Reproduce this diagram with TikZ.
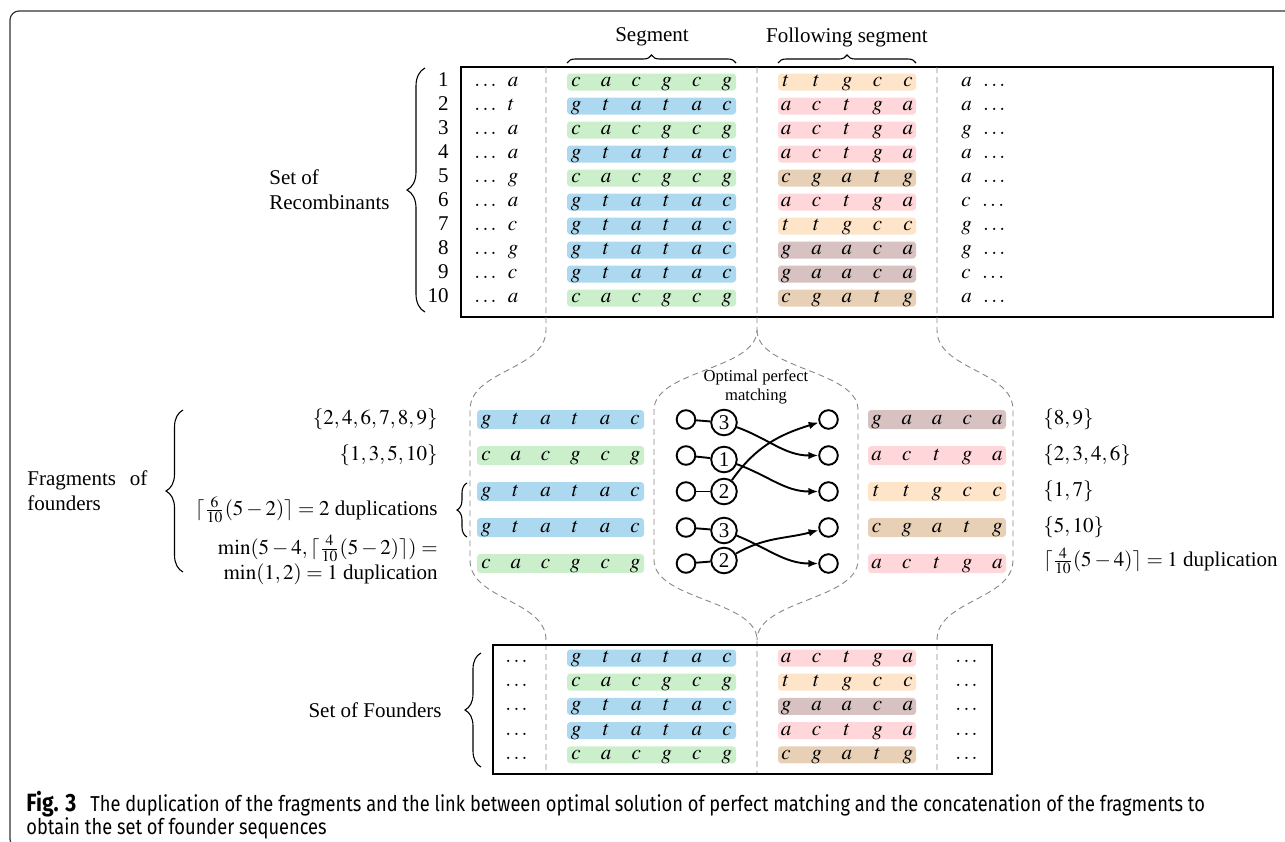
\documentclass[tikz,border=0pt]{standalone}
\usepackage{mathptmx}
\usepackage[no-math]{fontspec}
\setmainfont{Liberation Serif}
\newfontfamily\capfont[FakeStretch=0.845]{Fira Sans}
\usetikzlibrary{decorations.pathreplacing,arrows.meta}

\definecolor{sblue}{RGB}{172,217,240}
\definecolor{sgreen}{RGB}{203,238,203}
\definecolor{sorange}{RGB}{254,228,201}
\definecolor{spink}{RGB}{255,214,217}
\definecolor{smauve}{RGB}{215,193,193}
\definecolor{stan}{RGB}{231,208,181}
\definecolor{guidegray}{RGB}{135,135,135}
\definecolor{framegray}{RGB}{50,50,50}

% letters of a fragment, evenly spaced by \lsep
\newlength\lsep
\setlength\lsep{15pt}
\newcommand\lt[1]{\makebox[0pt]{$#1$}}
\newcommand\six[6]{\lt{#1}\hspace{\lsep}\lt{#2}\hspace{\lsep}\lt{#3}\hspace{\lsep}\lt{#4}\hspace{\lsep}\lt{#5}\hspace{\lsep}\lt{#6}}
\newcommand\five[5]{\lt{#1}\hspace{\lsep}\lt{#2}\hspace{\lsep}\lt{#3}\hspace{\lsep}\lt{#4}\hspace{\lsep}\lt{#5}}
\newcommand\Sb{\six gtatac}
\newcommand\Sg{\six cacgcg}
\newcommand\Fo{\five ttgcc}
\newcommand\Fp{\five actga}
\newcommand\Ft{\five cgatg}
\newcommand\Fm{\five gaaca}

\tikzset{
  frag/.style={rounded corners=1.6pt, inner xsep=0pt, inner ysep=0pt,
    text height=6.5pt, text depth=2pt, draw=none},
  segbox/.style={frag, minimum width=84.5pt, execute at begin node={\setlength\lsep{15.1pt}}},
  folbox/.style={frag, minimum width=69pt, execute at begin node={\setlength\lsep{15.25pt}}},
  midL/.style={frag, minimum width=83.5pt, text height=7.2pt, text depth=2.3pt,
    execute at begin node={\setlength\lsep{14.9pt}}},
  midR/.style={frag, minimum width=69pt, text height=7.2pt, text depth=2.3pt,
    execute at begin node={\setlength\lsep{15.1pt}}},
  rowtxt/.style={inner sep=0pt, text height=6.5pt, text depth=2pt},
  tabframe/.style={draw=black, line width=0.65pt},
  guide/.style={draw=guidegray, line width=0.45pt, dash pattern=on 3pt off 2pt},
  brc/.style={decorate, decoration={brace, amplitude=#1}, line width=0.55pt},
  dotc/.style={circle, draw, line width=0.95pt, minimum size=9.3pt, inner sep=0pt},
  numc/.style={circle, draw, line width=0.95pt, minimum size=12.8pt, inner sep=0pt},
  arr/.style={line width=0.95pt, -{Latex[length=5pt,width=3.8pt]}},
}

\begin{document}
\begin{tikzpicture}[x=0.5pt, y=-0.5pt, font=\fontsize{10.5}{12.5}\selectfont]
\useasboundingbox (0,0) rectangle (1285,841);
\clip (0,0) rectangle (1285,841);

% outer frame of the figure
\draw[framegray, line width=0.6pt, rounded corners=4.5pt] (10,11) rectangle (1330,848);

% ---------------- recombinants table ----------------
\node (seglab) at (652,37) {Segment};
\node (follab) at (847,37) {Following segment};
\draw[brc=4pt] (567,63) -- (736,63);
\draw[brc=4pt] (778,63) -- (916,63);

\foreach \n/\l/\sc/\st/\fc/\ft/\r in {
  1/a/sgreen/\Sg/sorange/\Fo/a,
  2/t/sblue/\Sb/spink/\Fp/a,
  3/a/sgreen/\Sg/spink/\Fp/g,
  4/a/sblue/\Sb/spink/\Fp/a,
  5/g/sgreen/\Sg/stan/\Ft/a,
  6/a/sblue/\Sb/spink/\Fp/c,
  7/c/sblue/\Sb/sorange/\Fo/g,
  8/g/sblue/\Sb/smauve/\Fm/g,
  9/c/sblue/\Sb/smauve/\Fm/c,
  10/a/sgreen/\Sg/stan/\Ft/a}{
  \node[rowtxt, anchor=east] (num\n) at (449,{82+24*(\n-1)}) {\n};
  \node[rowtxt, anchor=west] (lft\n) at (474,{82+24*(\n-1)}) {$\ldots\hspace{4.5pt}\l$};
  \node[segbox, fill=\sc] (seg\n) at (651.5,{82+24*(\n-1)}) {\st};
  \node[folbox, fill=\fc] (fol\n) at (847,{82+24*(\n-1)}) {\ft};
  \node[rowtxt, anchor=west] (rgt\n) at (961,{82+24*(\n-1)}) {$\r\hspace{4.5pt}\ldots$};
}
\draw[tabframe] (461,67) rectangle (1273,317);
\draw[brc=9pt] (425,312) -- (425,68);
\node[align=left, anchor=west, inner sep=0pt] (recomb) at (269,190) {Set of\\Recombinants};

% ---------------- dashed guides between the tables ----------------
\draw[guide] (546,67) -- (546,330) .. controls (546,370) and (470,370) .. (470,410)
  -- (470,560) .. controls (470,600) and (546,600) .. (546,640) -- (546,774);
\draw[guide] (757,67) -- (757,330) .. controls (757,370) and (654,370) .. (654,410)
  -- (654,560) .. controls (654,600) and (757,600) .. (757,640) -- (757,774);
\draw[guide] (757,330) .. controls (757,370) and (858,370) .. (858,410)
  -- (858,560) .. controls (858,600) and (757,600) .. (757,640);
\draw[guide] (937,67) -- (937,330) .. controls (937,370) and (1013,370) .. (1013,410)
  -- (1013,560) .. controls (1013,600) and (937,600) .. (937,640) -- (937,774);

% ---------------- fragments of founders ----------------
\foreach \k/\sc/\st/\fc/\ft in {
  1/sblue/\Sb/smauve/\Fm,
  2/sgreen/\Sg/spink/\Fp,
  3/sblue/\Sb/sorange/\Fo,
  4/sblue/\Sb/stan/\Ft,
  5/sgreen/\Sg/spink/\Fp}{
  \node[midL, fill=\sc] (fl\k) at (560.5,{419.5+36*(\k-1)}) {\st};
  \node[midR, fill=\fc] (fr\k) at (937,{419.5+36*(\k-1)}) {\ft};
}

\node[rowtxt, anchor=east] (setA) at (438,419.5) {$\{2,4,6,7,8,9\}$};
\node[rowtxt, anchor=east] (setB) at (438,455.5) {$\{1,3,5,10\}$};
\node[anchor=east, inner sep=0pt] (dupA) at (438,510) {$\lceil\frac{6}{10}(5-2)\rceil = 2$ duplications};
\node[anchor=east, align=right, inner sep=0pt] (dupB) at (438,560)
  {$\min(5-4,\lceil\frac{4}{10}(5-2)\rceil) =$\\$\min(1,2) = 1$ duplication};

\node[rowtxt, anchor=west] (setC) at (1043,419.5) {$\{8,9\}$};
\node[rowtxt, anchor=west] (setD) at (1043,455.5) {$\{2,3,4,6\}$};
\node[rowtxt, anchor=west] (setE) at (1043,491.5) {$\{1,7\}$};
\node[rowtxt, anchor=west] (setF) at (1043,527.5) {$\{5,10\}$};
\node[anchor=west, inner sep=0pt] (dupC) at (1043,561) {$\lceil\frac{4}{10}(5-4)\rceil = 1$ duplication};

\draw[brc=8.5pt] (183,572) -- (183,410);
\draw[brc=5pt] (467,537) -- (467,483);
\node[align=left, anchor=west, inner sep=0pt] (fragf) at (27,491) {\makebox[60pt][s]{Fragments of}\\founders};

% ---------------- optimal perfect matching ----------------
\node[align=center, font=\fontsize{8.3}{9.8}\selectfont] (optlab) at (756,387)
  {Optimal perfect\\matching};
\foreach \k/\v/\dy in {1/3/3, 2/1/4, 3/2/0, 4/3/3, 5/2/-3}{
  \node[dotc] (ml\k) at (686,{419.5+36*(\k-1)}) {};
  \node[numc] (mn\k) at (724,{419.5+36*(\k-1)+\dy}) {\v};
  \node[dotc] (mr\k) at (828.5,{419.5+36*(\k-1)}) {};
  \draw[line width=0.95pt] (ml\k) -- (mn\k);
}
\draw[arr] (mn1) to[out=-20, in=180] (mr2);
\draw[arr] (mn2) to[out=-20, in=180] (mr3);
\draw[arr] (mn3) to[out=55, in=197] (mr1);
\draw[arr] (mn4) to[out=-22, in=180] (mr5);
\draw[arr] (mn5) to[out=30, in=195] (mr4);

% ---------------- founders table ----------------
\foreach \k/\sc/\st/\fc/\ft in {
  1/sblue/\Sb/spink/\Fp,
  2/sgreen/\Sg/sorange/\Fo,
  3/sblue/\Sb/smauve/\Fm,
  4/sblue/\Sb/spink/\Fp,
  5/sgreen/\Sg/stan/\Ft}{
  \node[rowtxt] (bl\k) at (516.5,{658+24.2*(\k-1)}) {$\ldots$};
  \node[segbox, fill=\sc] (bs\k) at (651.5,{658+24.2*(\k-1)}) {\st};
  \node[folbox, fill=\fc] (bf\k) at (847,{658+24.2*(\k-1)}) {\ft};
  \node[rowtxt] (br\k) at (966.5,{658+24.2*(\k-1)}) {$\ldots$};
}
\draw[tabframe] (493,645) rectangle (992,774);
\draw[brc=8pt] (481,767) -- (481,653);
\node (founders) at (375,710) {Set of Founders};

% ---------------- caption ----------------
\node[anchor=north west, align=left, inner sep=0pt,
      font=\capfont\fontsize{10.8}{11.6}\selectfont] (caption) at (26,791)
  {{\bfseries\fontsize{12.5}{11.6}\selectfont Fig. 3}\hspace{7pt}The duplication of the fragments and the link between optimal solution of perfect matching and the concatenation of the fragments to\\
   obtain the set of founder sequences};
\end{tikzpicture}
\end{document}
